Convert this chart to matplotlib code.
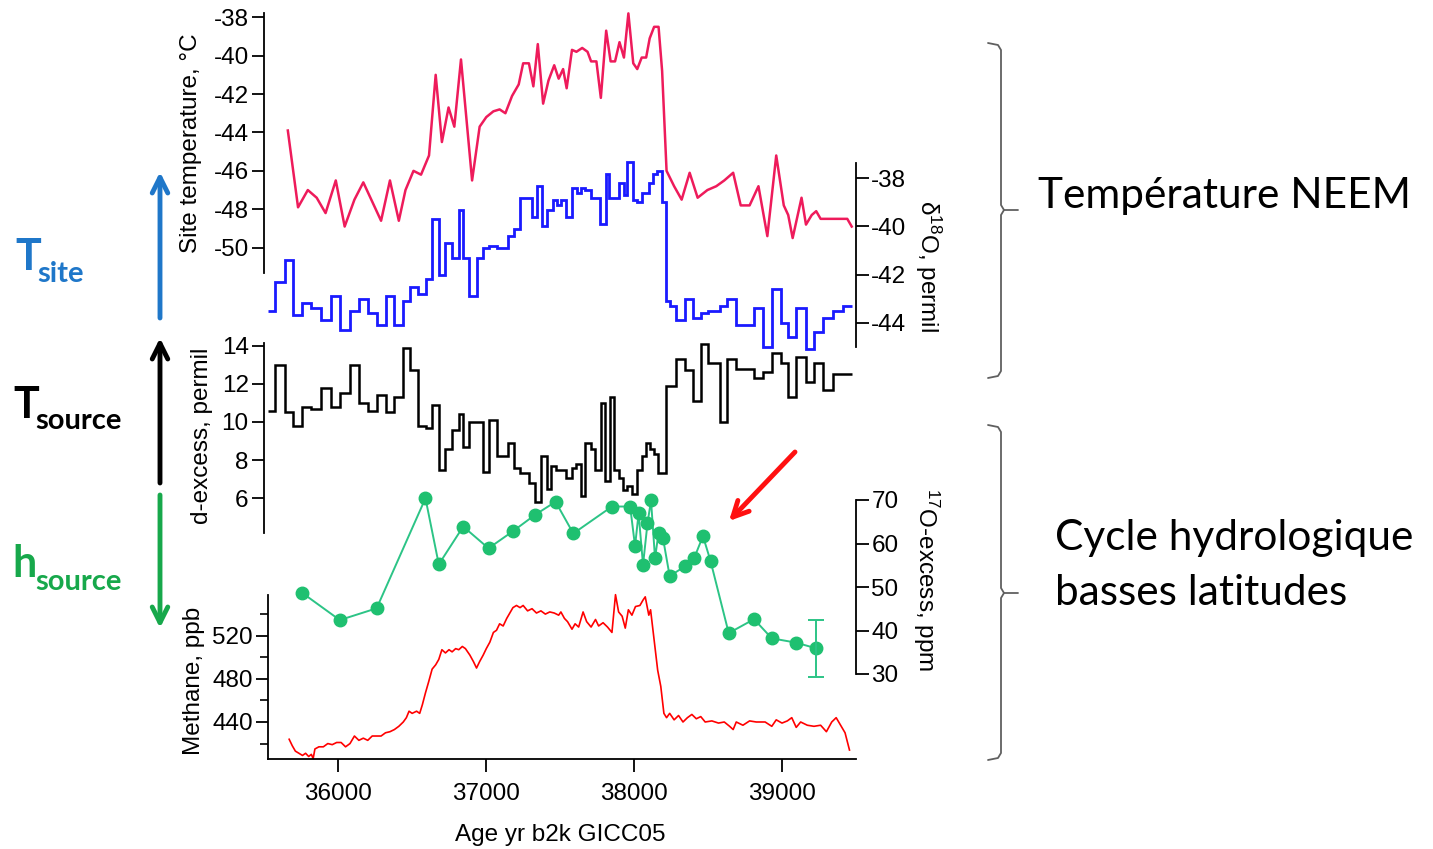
import matplotlib
matplotlib.use("Agg")
import matplotlib.pyplot as plt

W, H = 1433, 849
plt.rcParams['font.family'] = ['Liberation Sans', 'DejaVu Sans']
plt.rcParams['axes.unicode_minus'] = False
plt.rcParams['mathtext.default'] = 'regular'

# ---- data ----
# NEEM site temperature (degC)
t_years = [35661, 35730, 35796, 35856, 35916, 35985, 36045, 36111, 36171, 36231,
           36291, 36351, 36411, 36456, 36510, 36561, 36615, 36660, 36702, 36747,
           36786, 36831, 36906, 36957, 37002, 37050, 37092, 37131, 37176, 37221,
           37251, 37290, 37320, 37350, 37386, 37422, 37461, 37491, 37521, 37545,
           37581, 37611, 37650, 37686, 37710, 37746, 37776, 37812, 37842, 37872,
           37902, 37932, 37962, 37995, 38022, 38052, 38082, 38106, 38136, 38166,
           38190, 38220, 38271, 38322, 38376, 38430, 38496, 38556, 38610, 38670,
           38721, 38781, 38841, 38901, 38961, 39012, 39042, 39072, 39132, 39162,
           39201, 39231, 39261, 39366, 39441, 39471]
t_vals = [-43.9, -47.9, -47.0, -47.4, -48.2, -46.5, -48.9, -47.5, -46.6, -47.6,
          -48.6, -46.5, -48.6, -47.0, -46.0, -46.2, -45.2, -41.0, -44.5, -42.7,
          -43.7, -40.2, -46.5, -43.7, -43.2, -42.9, -42.8, -43.0, -42.1, -41.5,
          -40.4, -40.4, -41.6, -39.4, -42.5, -41.3, -40.5, -41.2, -40.7, -41.7,
          -39.7, -39.8, -39.6, -39.8, -40.3, -40.3, -42.2, -38.7, -40.3, -40.3,
          -39.3, -40.1, -37.8, -40.4, -40.7, -40.1, -40.1, -39.1, -38.5, -38.5,
          -40.8, -46.0, -46.8, -47.5, -46.1, -47.4, -47.0, -46.8, -46.5, -46.1,
          -47.8, -47.8, -46.8, -49.4, -45.2, -47.8, -48.3, -49.5, -47.4, -48.8,
          -48.3, -48.1, -48.5, -48.5, -48.5, -48.9]

# d18O (permil), step data
d18o_edges = [35526, 35571, 35640, 35697, 35760, 35820, 35886, 35952, 36015, 36081,
              36141, 36201, 36261, 36327, 36381, 36441, 36486, 36540, 36597, 36636,
              36681, 36726, 36771, 36816, 36846, 36882, 36936, 36981, 37020, 37071,
              37146, 37191, 37230, 37309, 37347, 37376, 37414, 37455, 37482, 37505,
              37538, 37579, 37613, 37640, 37669, 37707, 37770, 37811, 37833, 37901,
              37932, 37955, 37995, 38022, 38052, 38103, 38130, 38157, 38187, 38216,
              38241, 38286, 38346, 38400, 38451, 38502, 38580, 38631, 38691, 38811,
              38871, 38931, 38991, 39042, 39096, 39162, 39216, 39276, 39342, 39411,
              39471]
d18o_vals = [-43.5, -42.3, -41.4, -43.7, -43.2, -43.4, -43.9, -42.9, -44.3, -43.5,
             -43.0, -43.6, -44.1, -42.9, -44.1, -43.1, -42.5, -42.8, -42.2, -39.7,
             -42.0, -40.7, -41.3, -39.3, -41.3, -42.9, -41.3, -40.9, -40.8, -40.9,
             -40.4, -40.1, -38.8, -39.6, -38.3, -40.0, -39.3, -38.9, -39.1, -38.9,
             -39.6, -38.4, -38.6, -38.4, -38.5, -38.8, -39.9, -37.8, -38.8, -38.2,
             -38.7, -37.3, -38.9, -39.0, -38.6, -38.2, -37.8, -37.7, -39.0, -43.1,
             -43.3, -43.9, -43.0, -43.8, -43.6, -43.5, -43.3, -43.0, -44.1, -43.4,
             -45.0, -42.6, -44.0, -44.6, -43.4, -45.1, -44.4, -43.8, -43.5, -43.3]

# d-excess (permil), step data
dex_edges = [35526, 35571, 35640, 35697, 35760, 35820, 35886, 35952, 36015, 36081,
             36141, 36201, 36261, 36327, 36381, 36441, 36486, 36540, 36597, 36636,
             36681, 36726, 36771, 36816, 36846, 36882, 36936, 36981, 37020, 37071,
             37146, 37191, 37230, 37290, 37332, 37371, 37410, 37440, 37470, 37506,
             37541, 37579, 37608, 37640, 37669, 37707, 37736, 37775, 37804, 37838,
             37865, 37901, 37928, 37955, 37984, 38022, 38052, 38081, 38108, 38135,
             38164, 38216, 38286, 38346, 38400, 38451, 38502, 38580, 38631, 38691,
             38811, 38871, 38931, 38991, 39042, 39096, 39162, 39216, 39276, 39342,
             39411, 39471]
dex_vals = [10.6, 13.0, 10.5, 9.8, 10.8, 10.7, 11.8, 10.8, 11.5, 13.0,
            11.0, 10.6, 11.4, 10.5, 11.3, 13.9, 12.7, 9.8, 9.7, 10.9,
            7.5, 8.6, 9.6, 10.4, 8.7, 10.0, 10.0, 7.4, 10.1, 8.2,
            8.9, 7.6, 7.3, 6.8, 5.8, 8.2, 6.5, 7.7, 7.5, 7.5,
            7.05, 7.6, 7.8, 6.1, 8.9, 8.6, 7.5, 11.0, 6.9, 11.3,
            7.5, 7.05, 6.45, 6.65, 6.25, 7.5, 8.2, 8.9, 8.6, 8.3,
            7.3, 11.9, 13.3, 12.7, 11.1, 14.1, 13.1, 10.0, 13.3, 12.8,
            12.3, 12.6, 13.6, 13.1, 11.3, 13.4, 12.1, 13.1, 11.7, 12.5,
            12.5]

# 17O-excess (ppm)
o17_years = [35760, 36012, 36261, 36591, 36681, 36846, 37017, 37185, 37332, 37470,
             37590, 37851, 37974, 38007, 38031, 38061, 38091, 38115, 38142, 38166,
             38196, 38241, 38346, 38406, 38466, 38517, 38640, 38811, 38931, 39096,
             39231]
o17_vals = [48.6, 42.4, 45.1, 70.4, 55.2, 63.9, 58.9, 62.9, 66.6, 69.6,
            62.3, 68.5, 68.5, 59.4, 66.9, 55.1, 64.6, 69.9, 56.6, 62.5,
            61.2, 52.5, 54.8, 56.6, 61.7, 56.0, 39.4, 42.6, 38.2, 37.2,
            35.9]
o17_err = 6.5

# methane (ppb)
ch4_years = [35670, 35691, 35712, 35736, 35760, 35781, 35802, 35820, 35832, 35844,
             35871, 35901, 35931, 35961, 35991, 36021, 36051, 36081, 36111, 36141,
             36171, 36201, 36231, 36261, 36291, 36321, 36351, 36381, 36411, 36441,
             36462, 36480, 36501, 36531, 36552, 36570, 36591, 36612, 36636, 36660,
             36681, 36702, 36726, 36750, 36771, 36795, 36816, 36840, 36861, 36891,
             36915, 36936, 36957, 36981, 37002, 37026, 37050, 37071, 37092, 37116,
             37140, 37161, 37182, 37206, 37230, 37251, 37281, 37311, 37341, 37371,
             37401, 37431, 37461, 37491, 37506, 37530, 37551, 37581, 37602, 37626,
             37656, 37680, 37710, 37740, 37761, 37791, 37821, 37851, 37875, 37896,
             37920, 37941, 37962, 37986, 38010, 38040, 38061, 38076, 38100, 38112,
             38136, 38160, 38181, 38202, 38220, 38241, 38271, 38301, 38331, 38361,
             38391, 38421, 38451, 38481, 38526, 38571, 38610, 38646, 38670, 38691,
             38736, 38781, 38826, 38886, 38931, 38961, 39000, 39036, 39066, 39096,
             39126, 39171, 39216, 39261, 39300, 39336, 39366, 39396, 39426, 39456]
ch4_vals = [424, 418, 413, 411, 409, 411, 408, 410, 406, 415,
            417, 417, 420, 419, 421, 421, 417, 420, 427, 423,
            425, 423, 427, 427, 427, 430, 431, 433, 436, 440,
            444, 450, 448, 450, 448, 456, 467, 477, 489, 493,
            498, 507, 504, 507, 505, 508, 507, 510, 508, 502,
            496, 490, 496, 502, 508, 514, 523, 525, 531, 529,
            536, 541, 546, 548, 546, 548, 543, 545, 541, 543,
            540, 542, 541, 539, 542, 536, 533, 526, 531, 528,
            542, 533, 528, 535, 529, 532, 528, 523, 558, 542,
            538, 527, 544, 539, 547, 548, 553, 556, 539, 544,
            516, 488, 473, 448, 444, 448, 442, 446, 440, 444,
            447, 443, 445, 440, 441, 439, 440, 436, 433, 440,
            437, 441, 440, 440, 436, 442, 439, 441, 444, 435,
            440, 437, 436, 437, 431, 440, 444, 437, 430, 414]

x_ticks = [36000, 37000, 38000, 39000]

fig = plt.figure(figsize=(W / 100, H / 100), dpi=100)


def px_box(left, right, top, bottom):
    return [left / W, 1 - bottom / H, (right - left) / W, (bottom - top) / H]


def year_px(yr):
    return 264 + (yr - 35500) * 0.148


def panel(top, bottom, ylim, side, left_yr=35500):
    ax = fig.add_axes(px_box(year_px(left_yr), year_px(39500), top, bottom))
    ax.set_xlim(left_yr, 39500)
    ax.set_ylim(*ylim)
    ax.patch.set_alpha(0)
    for s in ax.spines.values():
        s.set_visible(False)
    ax.spines[side].set_visible(True)
    ax.spines[side].set_linewidth(1.3)
    ax.tick_params(axis='x', bottom=False, labelbottom=False)
    ax.yaxis.set_ticks_position(side)
    ax.tick_params(axis='y', which='major', direction='out', length=9, width=1.3,
                   labelsize=17.5, pad=2)
    return ax


# Site temperature
ax_t = panel(13, 273, (-51.32, -37.78), 'left')
ax_t.set_yticks(range(-50, -37, 2))
ax_t.plot(t_years, t_vals, color='#ee1b5b', lw=1.8, clip_on=False)

# d18O
ax_d = panel(163, 347, (-45.01, -37.36), 'right')
ax_d.set_yticks(range(-44, -37, 2))
ax_d.stairs(d18o_vals, d18o_edges, baseline=None, color='#1a1aff', lw=2, clip_on=False)

# d-excess
ax_x = panel(343, 533, (4.18, 14.14), 'left')
ax_x.set_yticks(range(6, 15, 2))
ax_x.stairs(dex_vals, dex_edges, baseline=None, color='black', lw=1.8, clip_on=False)

# 17O-excess
ax_o = panel(500, 674, (30, 70), 'right')
ax_o.set_yticks(range(30, 71, 10))
ax_o.plot(o17_years, o17_vals, '-o', color='#2cc486', lw=1.4, ms=9,
          mfc='#1fc070', mec='#1fc070', clip_on=False)
ax_o.errorbar(o17_years[-1], o17_vals[-1], yerr=o17_err, color='#2cc486', lw=1.4,
              capsize=6, capthick=1.4, clip_on=False)

# Methane
ax_m = panel(595, 759, (405.7, 557.7), 'left', left_yr=35527)
ax_m.spines['bottom'].set_visible(True)
ax_m.spines['bottom'].set_linewidth(1.3)
ax_m.set_yticks([440, 480, 520])
ax_m.set_yticks([420, 460, 500, 540], minor=True)
ax_m.tick_params(axis='y', which='minor', direction='out', length=6, width=1.2)
ax_m.tick_params(axis='x', bottom=True, labelbottom=True, direction='out',
                 length=9, width=1.3, labelsize=17.5, pad=8)
ax_m.set_xticks(x_ticks)
ax_m.set_xticklabels([str(v) for v in x_ticks])
ax_m.plot(ch4_years, ch4_vals, color='#ff0000', lw=1.2, clip_on=False)

# ---- overlay for labels, arrows and braces (pixel coordinates) ----
ov = fig.add_axes([0, 0, 1, 1])
ov.set_xlim(0, W)
ov.set_ylim(H, 0)
ov.axis('off')
ov.patch.set_alpha(0)

lab = dict(fontsize=17.5, ha='center', va='center')
ov.text(191, 143, 'Site temperature, °C', rotation=90, **lab)
ov.text(202, 436, 'd-excess, permil', rotation=90, **lab)
ov.text(194, 681, 'Methane, ppb', rotation=90, **lab)
ov.text(928, 266, 'δ$^{18}$O, permil', rotation=270, **lab)
ov.text(926, 580, '$^{17}$O-excess, ppm', rotation=270, **lab)
ov.text(560, 835, 'Age yr b2k GICC05', **lab)

arrow = dict(arrowstyle='->', lw=3.5, mutation_scale=28, shrinkA=0, shrinkB=0)
ov.annotate('', xy=(160, 172), xytext=(160, 318), arrowprops=dict(color='#1f77c9', **arrow))
ov.annotate('', xy=(160, 338), xytext=(160, 483), arrowprops=dict(color='black', **arrow))
ov.annotate('', xy=(160, 628), xytext=(160, 495), arrowprops=dict(color='#17a84b', **arrow))
ov.annotate('', xy=(729, 521), xytext=(795, 452), arrowprops=dict(color='#ff1010', **arrow))

big = dict(family='Lato', fontweight='bold', va='baseline')
ov.text(15, 270, 'T', fontsize=31, color='#1f77c9', **big)
ov.text(37, 282, 'site', fontsize=21, color='#1f77c9', **big)
ov.text(13, 418, 'T', fontsize=31, color='black', **big)
ov.text(35, 429, 'source', fontsize=21, color='black', **big)
ov.text(12, 577, 'h', fontsize=31, color='#17a84b', **big)
ov.text(35, 590, 'source', fontsize=21, color='#17a84b', **big)

side = dict(family='Lato', fontsize=30.5, va='baseline', ha='left')
ov.text(1038, 208, 'Température NEEM', **side)
ov.text(1055, 550, 'Cycle hydrologique', **side)
ov.text(1055, 605, 'basses latitudes', **side)


def brace(top, mid, bottom):
    kw = dict(color='#606060', lw=1.3, solid_capstyle='round')
    ov.plot([988, 998, 1001, 1001, 1004, 1018],
            [top, top + 2, top + 7, mid - 5, mid, mid], **kw)
    ov.plot([1004, 1001, 1001, 998, 988],
            [mid, mid + 5, bottom - 7, bottom - 2, bottom], **kw)


brace(43, 210, 378)
brace(425, 593, 760)

fig.savefig('out.png', dpi=100)
